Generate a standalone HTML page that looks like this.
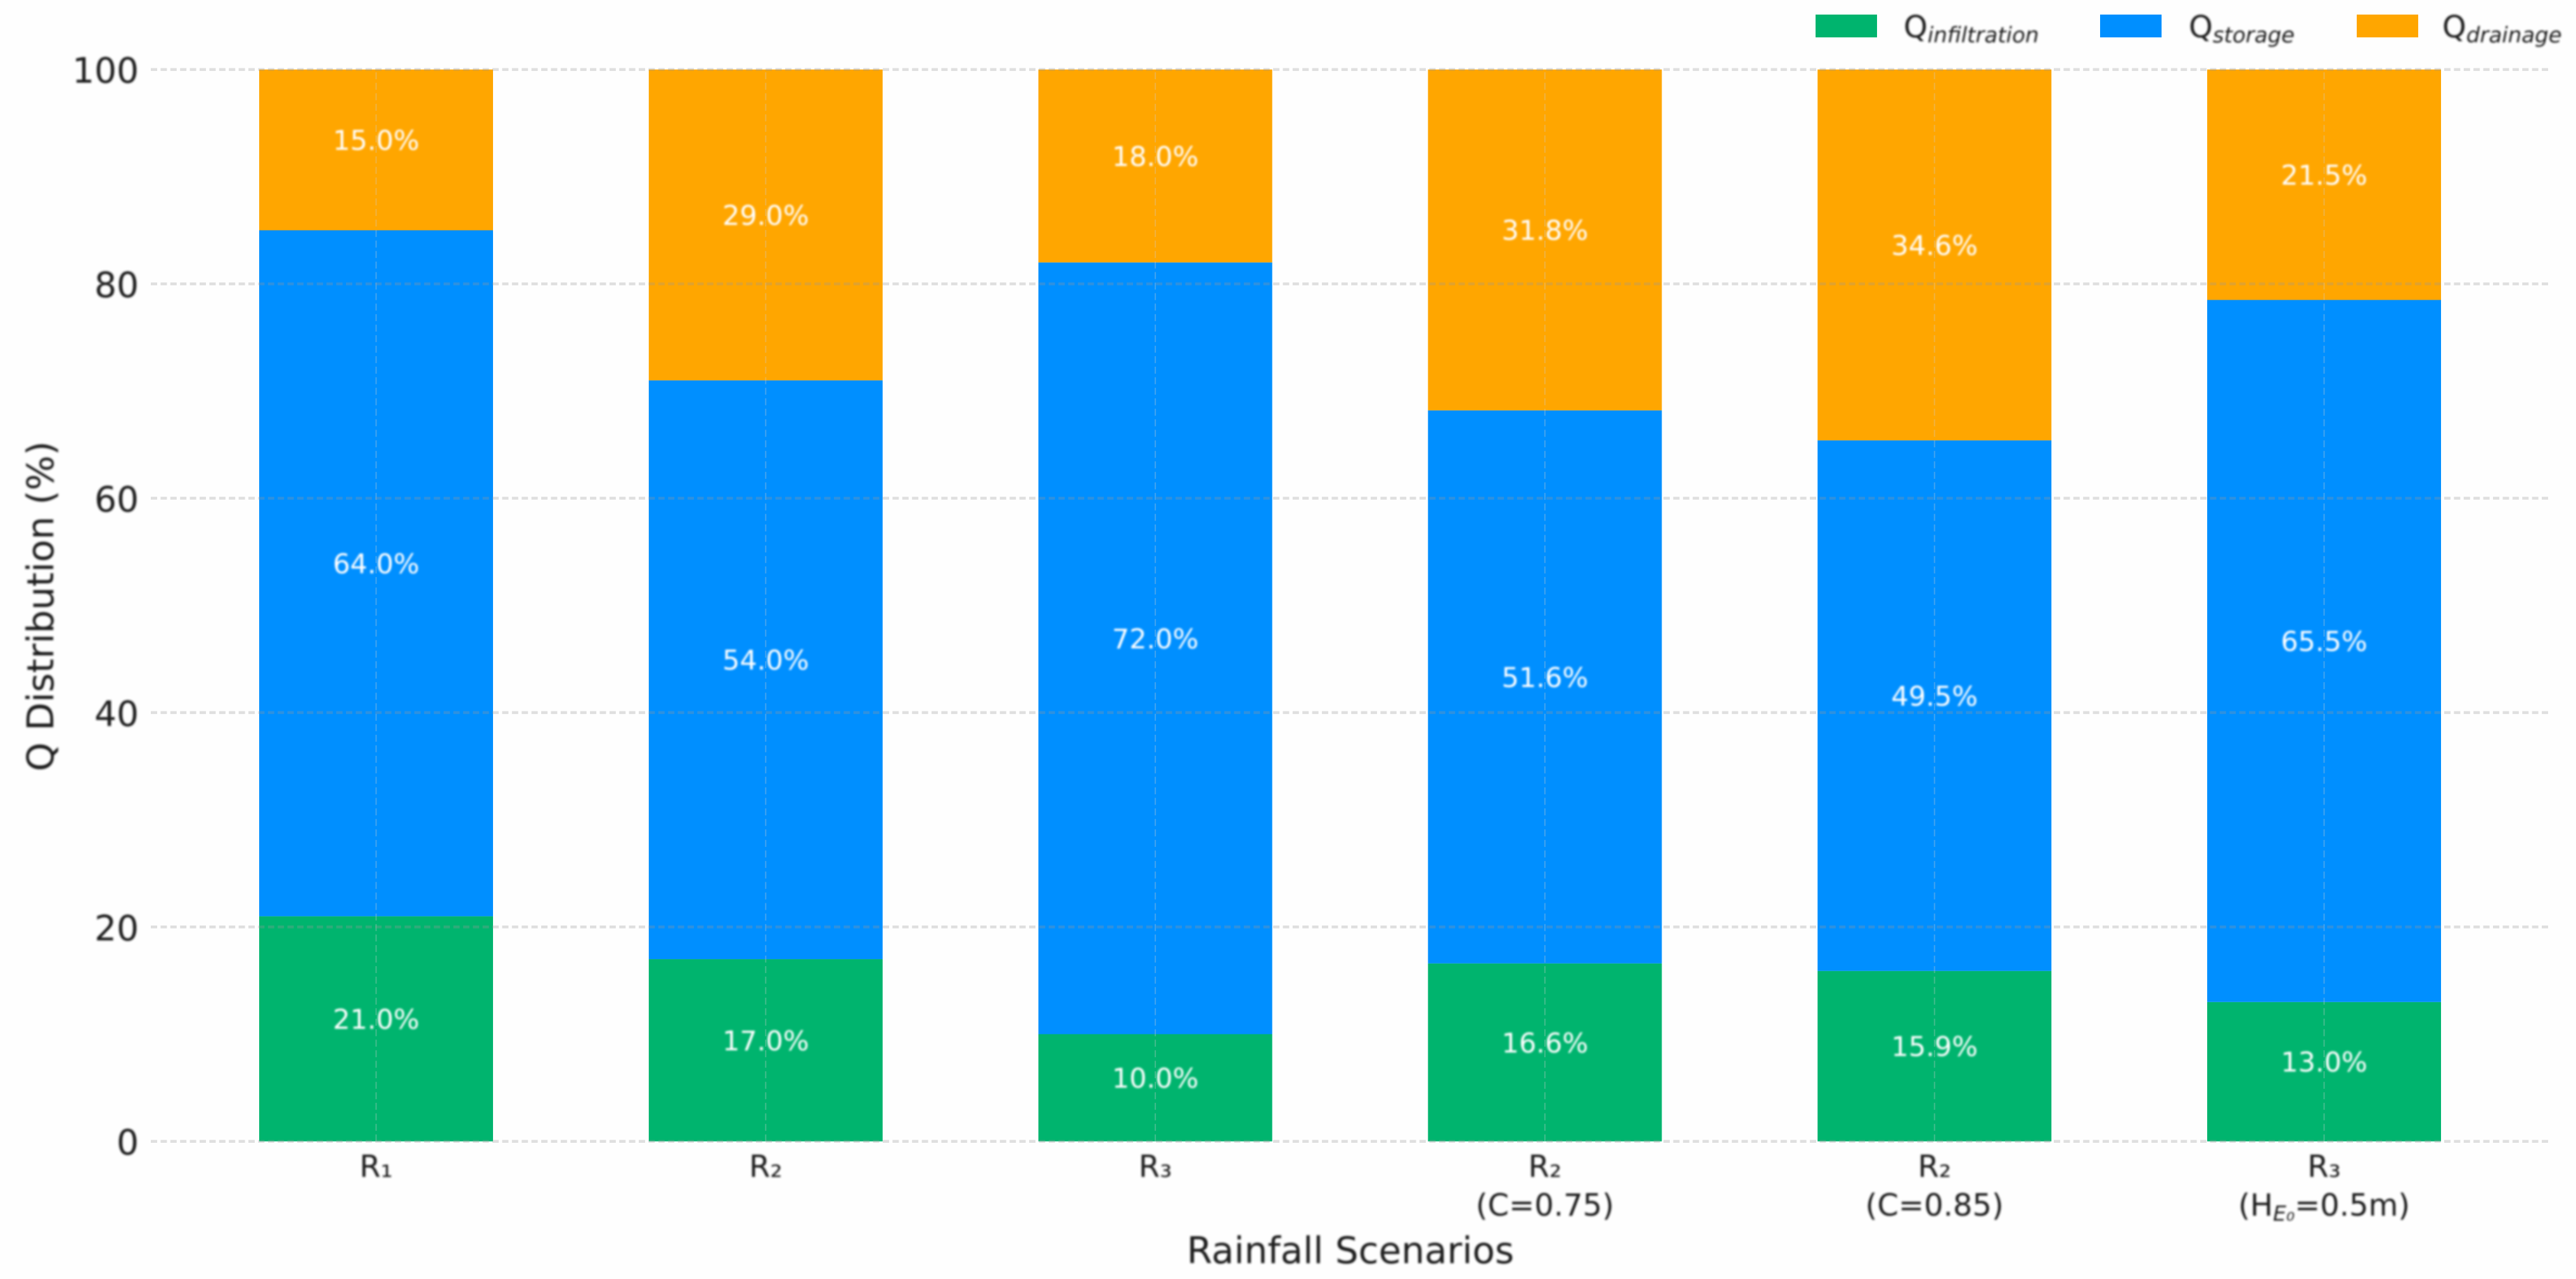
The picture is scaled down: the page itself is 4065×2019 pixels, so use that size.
<!DOCTYPE html>
<html lang="en">
<head>
<meta charset="utf-8">
<title>Q Distribution by Rainfall Scenario</title>
<style>
  html, body { margin: 0; padding: 0; background: #fefefe; }
  svg { display: block; }
  text { font-family: "DejaVu Sans", "Liberation Sans", sans-serif; fill: #1c1c1c; }
</style>
</head>
<body>
<svg id="chart" xmlns="http://www.w3.org/2000/svg" width="4065" height="2019" viewBox="0 0 4065 2019">
  <defs>
    <filter id="soft" x="-5%" y="-20%" width="110%" height="140%"><feGaussianBlur stdDeviation="1.5"/></filter>
  </defs>
  <rect x="0" y="0" width="4065" height="2019" fill="#fefefe"/>
  <g id="bars"></g>
  <g id="grid"></g>
  <g id="values" filter="url(#soft)"></g>
  <g id="yticks" filter="url(#soft)"></g>
  <g id="xticks" filter="url(#soft)"></g>
  <text transform="translate(84,957) rotate(-90)" text-anchor="middle" font-size="58" filter="url(#soft)">Q Distribution (%)</text>
  <text x="2131" y="1994" text-anchor="middle" font-size="58" filter="url(#soft)">Rainfall Scenarios</text>
  <g>
    <g>
      <rect x="2865" y="23" width="97" height="36" fill="#00b46e"/>
      <text x="3004" y="59" font-size="48" filter="url(#soft)">Q<tspan dy="8" font-size="34" font-style="italic">infiltration</tspan></text>
    </g>
    <g>
      <rect x="3314" y="23" width="97" height="36" fill="#008fff"/>
      <text x="3454" y="59" font-size="48" filter="url(#soft)">Q<tspan dy="8" font-size="34" font-style="italic">storage</tspan></text>
    </g>
    <g>
      <rect x="3719" y="23" width="97" height="36" fill="#ffa600"/>
      <text x="3854" y="59" font-size="48" filter="url(#soft)">Q<tspan dy="8" font-size="34" font-style="italic">drainage</tspan></text>
    </g>
  </g>
</svg>
<script>
const categoryLine1 = ["R₁", "R₂", "R₃", "R₂", "R₂", "R₃"];
const categoryLine2 = ["", "", "", "(C=0.75)", "(C=0.85)", "(HE₀=0.5m)"];
const infiltration = [21.0, 17.0, 10.0, 16.6, 15.9, 13.0];
const storage = [64.0, 54.0, 72.0, 51.6, 49.5, 65.5];
const drainage = [15.0, 29.0, 18.0, 31.8, 34.6, 21.5];
const yTicks = [0, 20, 40, 60, 80, 100];

const NS = "http://www.w3.org/2000/svg";
const xScale = function (i) { return 593.5 + i * 614.8; };
const yScale = function (v) { return 1801.7 - v * 16.92; };
const barWidth = 369;
const gridLeft = 238;
const gridRight = 4022;

function make(tag, parent) {
  const el = document.createElementNS(NS, tag);
  parent.appendChild(el);
  return el;
}

const barsGroup = document.getElementById("bars");
const gridGroup = document.getElementById("grid");
const valuesGroup = document.getElementById("values");
const yTickGroup = document.getElementById("yticks");
const xTickGroup = document.getElementById("xticks");

const seriesList = [
  { key: "infiltration", values: infiltration, color: "#00b46e" },
  { key: "storage", values: storage, color: "#008fff" },
  { key: "drainage", values: drainage, color: "#ffa600" }
];

categoryLine1.forEach(function (label, i) {
  let base = 0;
  seriesList.forEach(function (series) {
    const v = series.values[i];
    const rect = make("rect", barsGroup);
    
    
    rect.setAttribute("x", xScale(i) - barWidth / 2);
    rect.setAttribute("y", yScale(base + v));
    rect.setAttribute("width", barWidth);
    rect.setAttribute("height", yScale(base) - yScale(base + v));
    rect.setAttribute("fill", series.color);

    const text = make("text", valuesGroup);
    
    
    text.setAttribute("x", xScale(i));
    text.setAttribute("y", yScale(base + v / 2));
    text.setAttribute("text-anchor", "middle");
    text.setAttribute("font-size", "43");
    text.setAttribute("style", "fill:#ffffff");
    text.textContent = v.toFixed(1) + "%";
    base += v;
  });

  const vLine = make("line", gridGroup);
  
  
  vLine.setAttribute("x1", xScale(i));
  vLine.setAttribute("x2", xScale(i));
  vLine.setAttribute("y1", yScale(0));
  vLine.setAttribute("y2", yScale(100));
  vLine.setAttribute("stroke", "#cccccc");
  vLine.setAttribute("stroke-opacity", "0.32");
  vLine.setAttribute("stroke-width", "2");
  vLine.setAttribute("stroke-dasharray", "11 5.6");

  const tick1 = make("text", xTickGroup);
  
  
  tick1.setAttribute("x", xScale(i));
  tick1.setAttribute("y", 1858);
  tick1.setAttribute("text-anchor", "middle");
  tick1.setAttribute("font-size", "48");
  tick1.textContent = label;

  const second = categoryLine2[i];
  if (second) {
    const tick2 = make("text", xTickGroup);
    
    
    tick2.setAttribute("x", xScale(i));
    tick2.setAttribute("y", 1919);
    tick2.setAttribute("text-anchor", "middle");
    tick2.setAttribute("font-size", "48");
    const parts = second.split("E₀");
    if (parts.length === 2) {
      const a = make("tspan", tick2);
      a.textContent = parts[0];
      const sub = make("tspan", tick2);
      sub.setAttribute("dy", "8");
      sub.setAttribute("font-size", "33");
      sub.setAttribute("font-style", "italic");
      sub.textContent = "E₀";
      const b = make("tspan", tick2);
      b.setAttribute("dy", "-8");
      b.textContent = parts[1];
    } else {
      tick2.textContent = second;
    }
  }
});

yTicks.forEach(function (v) {
  const line = make("line", gridGroup);
  
  
  line.setAttribute("x1", gridLeft);
  line.setAttribute("x2", gridRight);
  line.setAttribute("y1", yScale(v));
  line.setAttribute("y2", yScale(v));
  line.setAttribute("stroke", "#999999");
  line.setAttribute("stroke-opacity", "0.3");
  line.setAttribute("stroke-width", "4.5");
  line.setAttribute("stroke-dasharray", "10 5.4");

  const text = make("text", yTickGroup);
  
  
  text.setAttribute("x", 219);
  text.setAttribute("y", yScale(v) + 21);
  text.setAttribute("text-anchor", "end");
  text.setAttribute("font-size", "55");
  text.textContent = String(v);
});
</script>
</body>
</html>
